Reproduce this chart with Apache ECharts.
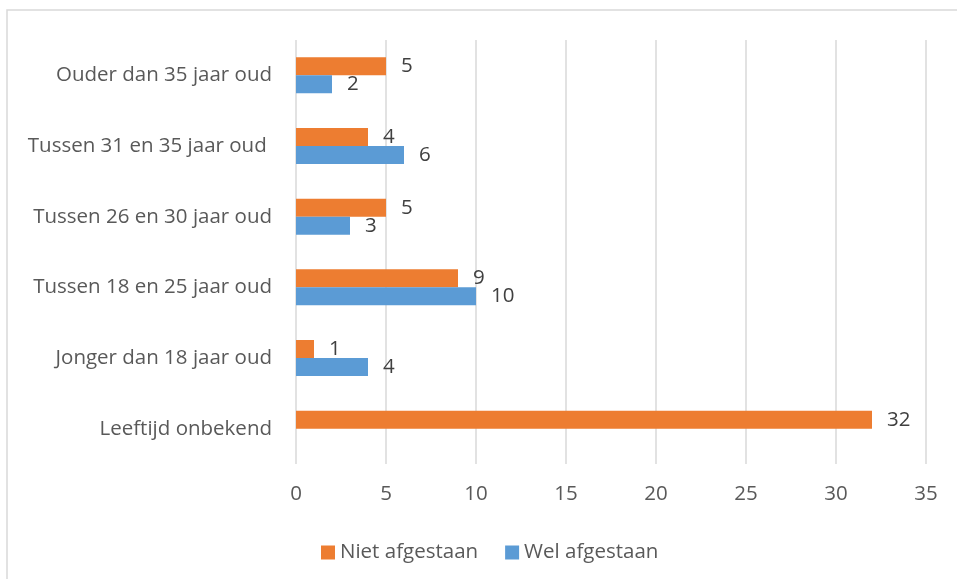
<!DOCTYPE html>
<html lang="nl">
<head>
    <meta charset="UTF-8">
    <title>leeftijd_afgestaan</title>
    <script src="https://cdn.jsdelivr.net/npm/echarts@6/dist/echarts.min.js"></script>
    <style>
        html, body { margin: 0; padding: 0; background: #fff; }
        #chart { width: 957px; height: 579px; }
    </style>
</head>
<body>
<div id="chart"></div>
<script>
    // categorieen van onder naar boven
    var categories = ['Leeftijd onbekend', 'Jonger dan 18 jaar oud', 'Tussen 18 en 25 jaar oud',
        'Tussen 26 en 30 jaar oud', 'Tussen 31 en 35 jaar oud ', 'Ouder dan 35 jaar oud'];
    var nietAfgestaan = [32, 1, 9, 5, 4, 5];
    var welAfgestaan = [null, 4, 10, 3, 6, 2];
    var xTicks = [0, 5, 10, 15, 20, 25, 30, 35];

    var fontFam = 'Open Sans';
    var fs = 20.5;
    var chart = echarts.init(document.getElementById('chart'));

    chart.setOption({
        animation: false,
        textStyle: { fontFamily: fontFam },
        graphic: [{
            type: 'rect',
            shape: { x: 7, y: 10, width: 1000, height: 1000 },
            style: { fill: 'none', stroke: '#d9d9d9', lineWidth: 1.5 },
            silent: true
        }],
        legend: {
            top: 537,
            left: 316,
            itemWidth: 14,
            itemHeight: 14,
            itemGap: 27,
            icon: 'rect',
            textStyle: { fontSize: 20.5, color: '#595959', fontFamily: fontFam },
            data: ['Niet afgestaan', 'Wel afgestaan']
        },
        grid: { left: 296, right: 31, top: 40, bottom: 115 },
        xAxis: {
            type: 'value',
            min: xTicks[0],
            max: xTicks[xTicks.length - 1],
            interval: 5,
            axisLine: { show: false },
            axisTick: { show: false },
            axisLabel: { fontSize: fs, color: '#595959', margin: 20 },
            splitLine: { lineStyle: { color: '#d9d9d9', width: 1.5 } }
        },
        yAxis: {
            type: 'category',
            data: categories,
            axisLine: { show: false },
            axisTick: { show: false },
            axisLabel: { fontSize: fs, color: '#595959', margin: 24 }
        },
        series: [
            {
                name: 'Niet afgestaan',
                type: 'bar',
                data: nietAfgestaan,
                barWidth: 18,
                barGap: '0%',
                itemStyle: { color: '#ED7D31' },
                label: { show: true, position: 'right', distance: 15, fontSize: fs, color: '#404040' }
            },
            {
                name: 'Wel afgestaan',
                type: 'bar',
                data: welAfgestaan,
                barWidth: 18,
                barGap: '0%',
                itemStyle: { color: '#5B9BD5' },
                label: { show: true, position: 'right', distance: 15, fontSize: fs, color: '#404040' }
            }
        ]
    });
</script>
</body>
</html>
